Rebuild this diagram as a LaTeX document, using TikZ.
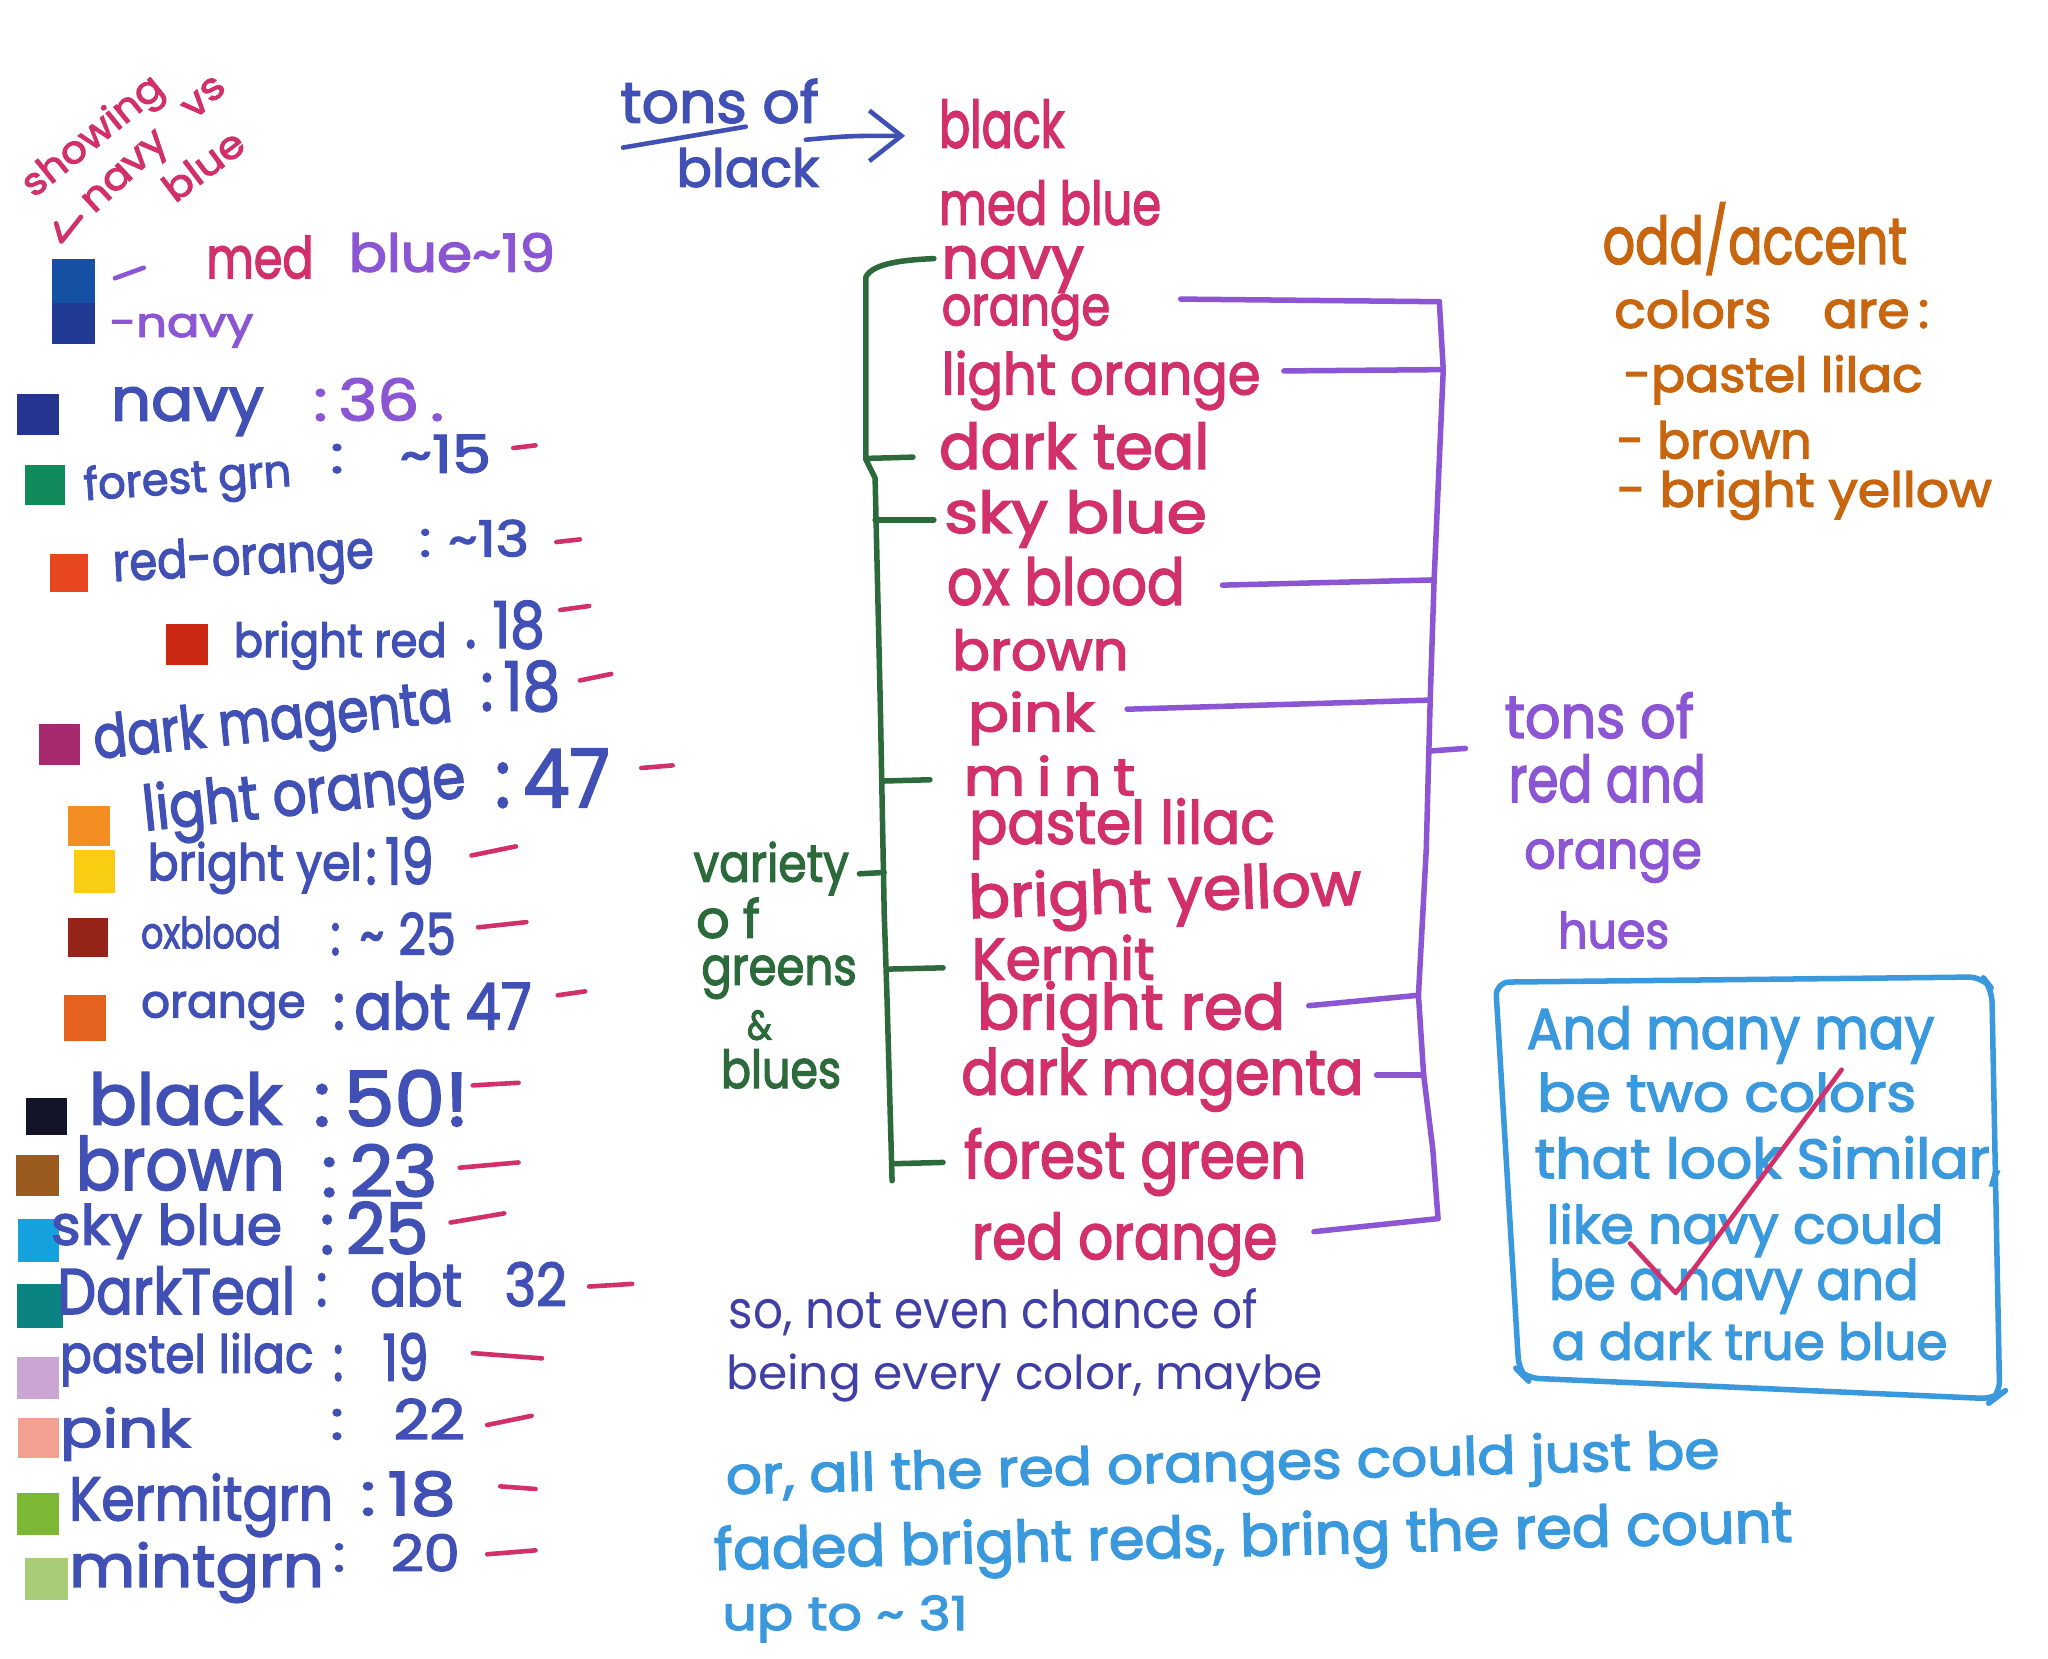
\documentclass[tikz,border=0pt]{standalone}
\usepackage{fontspec}
\setmainfont{Poppins}[FakeBold=2.5]
\newfontfamily\thinhand{Poppins}
\usepackage{graphicx}
\usetikzlibrary{arrows.meta}
\newlength\hwu
\setlength\hwu{0.01cm}
\newcommand\hw[2]{\resizebox{#1\hwu}{\height}{#2}}
\definecolor{cPK}{HTML}{D1306A}
\definecolor{cPU}{HTML}{8B55D3}
\definecolor{cHB}{HTML}{4150B4}
\definecolor{cGR}{HTML}{2C6A3B}
\definecolor{cBR}{HTML}{C8650F}
\definecolor{cLB}{HTML}{3A98DC}
\definecolor{cIB}{HTML}{3F3FA5}
\definecolor{sqMedBlue}{HTML}{1451A5}
\definecolor{sqNavyB}{HTML}{213B95}
\definecolor{sqNavy}{HTML}{24348F}
\definecolor{sqForest}{HTML}{118A5C}
\definecolor{sqRedOr}{HTML}{E8461E}
\definecolor{sqBRed}{HTML}{CB2914}
\definecolor{sqMag}{HTML}{A82A6E}
\definecolor{sqLOr}{HTML}{F28E22}
\definecolor{sqYel}{HTML}{F9CD11}
\definecolor{sqOx}{HTML}{962318}
\definecolor{sqOr}{HTML}{E4621E}
\definecolor{sqBlack}{HTML}{141428}
\definecolor{sqBrown}{HTML}{9B5A1E}
\definecolor{sqSky}{HTML}{16A2DE}
\definecolor{sqTeal}{HTML}{0C8383}
\definecolor{sqLilac}{HTML}{CBA6D2}
\definecolor{sqPink}{HTML}{F2A091}
\definecolor{sqKermit}{HTML}{7CB833}
\definecolor{sqMint}{HTML}{A9CC79}
\tikzset{
  tx/.style={inner sep=0pt, outer sep=0pt, anchor=base west},
  fsz/.style={font=\fontsize{#1}{#1}\selectfont},
  ln/.style={line width=1pt, line cap=round, line join=round},
  brk/.style={line width=1.2pt, line cap=round, line join=round},
}
\begin{document}
\begin{tikzpicture}[x=0.01cm,y=-0.01cm]
\fill[white] (0,0) rectangle (1568,1270);
\useasboundingbox (0,0) rectangle (1568,1270);

% ---------- "showing navy vs blue" ----------
\node[tx,fsz=8.3,text=cPK,rotate=39] (r1) at (26,152) {\hw{130}{showing}};
\node[tx,fsz=8.3,text=cPK,rotate=43] (r2) at (72,164) {\hw{140}{navy\hspace{0.8em}vs}};
\node[tx,fsz=8.3,text=cPK,rotate=37] (r3) at (134,156) {\hw{70}{blue}};
\coordinate (ra) at (62,166);
\coordinate (rb) at (47,185);
\coordinate (rc) at (43,171);
\draw[ln,cPK] (ra) -- (rb) -- (rc);

% ---------- left colour swatches ----------
\fill[sqMedBlue] (40,198) rectangle (73,232);
\fill[sqNavyB] (40,232) rectangle (73,263);
\fill[sqNavy] (13,302) rectangle (45,333);
\fill[sqForest] (19,356) rectangle (50,387);
\fill[sqRedOr] (38,424) rectangle (67,453);
\fill[sqBRed] (127,478) rectangle (159,509);
\fill[sqMag] (30,554) rectangle (61,586);
\fill[sqLOr] (52,617) rectangle (84,648);
\fill[sqYel] (57,651) rectangle (88,684);
\fill[sqOx] (52,703) rectangle (83,733);
\fill[sqOr] (49,762) rectangle (81,797);
\fill[sqBlack] (20,841) rectangle (51,869);
\fill[sqBrown] (12,884) rectangle (45,916);
\fill[sqSky] (14,933) rectangle (45,966);
\fill[sqTeal] (13,983) rectangle (48,1017);
\fill[sqLilac] (13,1039) rectangle (45,1071);
\fill[sqPink] (14,1086) rectangle (45,1116);
\fill[sqKermit] (13,1143) rectangle (45,1175);
\fill[sqMint] (19,1193) rectangle (52,1225);

% ---------- left labels ----------
\draw[ln,cPU] (88,213) -- (110,205);
\node[tx,fsz=12.5,text=cPK] (medL) at (158,213) {\hw{82}{med}};
\node[tx,fsz=11.4,text=cPU] (mbL) at (267,208) {\hw{158}{blue\textasciitilde19}};
\node[tx,fsz=9,text=cPU] (nvL) at (84,258) {\hw{110}{-navy}};

\node[tx,fsz=13,text=cHB] (n1) at (85,322) {\hw{117}{navy}};
\node[tx,fsz=12.5,text=cPU] (c1) at (240,322) {\hw{100}{:\,36\,.}};
\node[tx,fsz=9.7,text=cHB,rotate=4] (n2) at (65,383) {\hw{159}{forest grn}};
\node[tx,fsz=11.4,text=cHB] (c2) at (253,362) {\hw{123}{:\hspace{0.9em}\textasciitilde15}};
\node[tx,fsz=11.4,text=cHB,rotate=3] (n3) at (87,445) {\hw{200}{red-orange}};
\node[tx,fsz=10.8,text=cHB] (c3) at (321,426) {\hw{84}{:\hspace{0.3em}\textasciitilde13}};
\node[tx,fsz=10.2,text=cHB] (n4) at (179,503) {\hw{163}{bright red}};
\node[tx,fsz=14,text=cHB] (c4) at (356,496) {\hw{61}{.\hspace{0.3em}18}};
\node[tx,fsz=13,text=cHB,rotate=6] (n5) at (73,581) {\hw{276}{dark magenta}};
\node[tx,fsz=14.8,text=cHB] (c5) at (368,544) {\hw{61}{:\,18}};
\node[tx,fsz=13.5,text=cHB,rotate=6] (n6) at (111,636) {\hw{248}{light orange}};
\node[tx,fsz=17.6,text=cHB] (c6) at (379,618) {\hw{88}{:\,47}};
\node[tx,fsz=11,text=cHB] (n7) at (113,674) {\hw{164}{bright yel}};
\node[tx,fsz=14,text=cHB] (c7) at (280,677) {\hw{52}{:\,19}};
\node[tx,fsz=9.4,text=cHB] (n8) at (108,726) {\hw{107}{oxblood}};
\node[tx,fsz=12.5,text=cHB] (c8) at (253,731) {\hw{96}{:\hspace{0.4em}\textasciitilde\hspace{0.3em}25}};
\node[tx,fsz=10,text=cHB] (n9) at (108,779) {\hw{126}{orange}};
\node[tx,fsz=14,text=cHB] (c9) at (255,788) {\hw{152}{:\,abt 47}};
\node[tx,fsz=15.4,text=cHB] (n10) at (68,861) {\hw{148}{black}};
\node[tx,fsz=16.5,text=cHB] (c10) at (240,862) {\hw{119}{:\,50!}};
\node[tx,fsz=15.9,text=cHB] (n11) at (58,911) {\hw{160}{brown}};
\node[tx,fsz=15.4,text=cHB] (c11) at (246,916) {\hw{89}{:\,23}};
\node[tx,fsz=12,text=cHB] (n12) at (39,953) {\hw{177}{sky blue}};
\node[tx,fsz=15.4,text=cHB] (c12) at (245,960) {\hw{83}{:\,25}};
\node[tx,fsz=14,text=cHB] (n13) at (44,1006) {\hw{182}{DarkTeal}};
\node[tx,fsz=13,text=cHB] (c13) at (242,1000) {\hw{192}{:\hspace{0.8em}abt\hspace{0.8em}32}};
\node[tx,fsz=11.4,text=cHB] (n14) at (46,1051) {\hw{194}{pastel lilac}};
\node[tx,fsz=14,text=cHB] (c14) at (255,1057) {\hw{73}{:\hspace{0.8em}19}};
\node[tx,fsz=11.4,text=cHB] (n15) at (46,1108) {\hw{100}{pink}};
\node[tx,fsz=12,text=cHB] (c15) at (253,1102) {\hw{103}{:\hspace{0.8em}22}};
\node[tx,fsz=13.4,text=cHB] (n16) at (53,1164) {\hw{202}{Kermitgrn}};
\node[tx,fsz=13,text=cHB] (c16) at (276,1160) {\hw{73}{:\,18}};
\node[tx,fsz=12.8,text=cHB] (n17) at (53,1215) {\hw{195}{mintgrn}};
\node[tx,fsz=11,text=cHB] (c17) at (255,1203) {\hw{97}{:\hspace{0.8em}20}};

% pink dashes
\draw[ln,cPK] (393,343) -- (410,341);
\draw[ln,cPK] (426,415) -- (444,413);
\draw[ln,cPK] (429,467) -- (451,464);
\draw[ln,cPK] (444,521) -- (468,516);
\draw[ln,cPK] (491,588) -- (515,586);
\draw[ln,cPK] (361,655) -- (395,648);
\draw[ln,cPK] (366,710) -- (403,706);
\draw[ln,cPK] (427,762) -- (448,759);
\draw[ln,cPK] (362,831) -- (397,829);
\draw[ln,cPK] (352,894) -- (397,890);
\draw[ln,cPK] (345,936) -- (386,929);
\draw[ln,cPK] (451,985) -- (484,983);
\draw[ln,cPK] (362,1036) -- (415,1040);
\draw[ln,cPK] (373,1091) -- (407,1084);
\draw[ln,cPK] (383,1138) -- (410,1140);
\draw[ln,cPK] (373,1190) -- (410,1187);

% ---------- tons of black ----------
\node[tx,fsz=12.5,text=cHB] (t1) at (475,94) {\hw{152}{tons of}};
\node[tx,fsz=11.4,text=cHB] (t2) at (518,143) {\hw{109}{black}};
\draw[ln,cHB] (477,113) -- (571,97);
\coordinate (ta) at (617,107);
\coordinate (tb) at (693,104);
\draw[ln,cHB,-{Straight Barb[length=7pt,width=11pt]}] (ta) .. controls (650,104) .. (tb);

% ---------- middle list ----------
\node[tx,fsz=14.2,text=cPK] (m1) at (719,113) {\hw{96}{black}};
\node[tx,fsz=13,text=cPK] (m2) at (719,172) {\hw{170}{med blue}};
\node[tx,fsz=12.5,text=cPK] (m3) at (721,213) {\hw{109}{navy}};
\node[tx,fsz=12,text=cPK] (m4) at (721,249) {\hw{129}{orange}};
\node[tx,fsz=12.5,text=cPK] (m5) at (721,302) {\hw{244}{light orange}};
\node[tx,fsz=13.7,text=cPK] (m6) at (719,359) {\hw{207}{dark teal}};
\node[tx,fsz=12.5,text=cPK] (m7) at (723,408) {\hw{201}{sky blue}};
\node[tx,fsz=14,text=cPK] (m8) at (725,463) {\hw{182}{ox blood}};
\node[tx,fsz=12,text=cPK] (m9) at (729,513) {\hw{135}{brown}};
\node[tx,fsz=11.4,text=cPK] (m10) at (741,560) {\hw{97}{pink}};
\node[tx,fsz=11.4,text=cPK] (m11) at (738,609) {\hw{131}{m\hspace{0.2em}i\hspace{0.2em}n\hspace{0.2em}t}};
\node[tx,fsz=13,text=cPK] (m12) at (742,646) {\hw{234}{pastel lilac}};
\node[tx,fsz=13,text=cPK,rotate=2] (m13) at (742,703) {\hw{301}{bright yellow}};
\node[tx,fsz=12.8,text=cPK] (m14) at (744,750) {\hw{140}{Kermit}};
\node[tx,fsz=13.7,text=cPK] (m15) at (748,788) {\hw{236}{bright red}};
\node[tx,fsz=13.7,text=cPK] (m16) at (736,838) {\hw{308}{dark magenta}};
\node[tx,fsz=14.2,text=cPK] (m17) at (738,902) {\hw{262}{forest green}};
\node[tx,fsz=13.7,text=cPK] (m18) at (744,964) {\hw{234}{red orange}};

% ---------- green bracket ----------
\draw[brk,cGR] (715,198) .. controls (690,199) and (668,202) .. (663,212)
  -- (663,352) -- (670,366) -- (674,540) -- (677,700) -- (679,760) -- (683,904);
\draw[brk,cGR] (663,351) -- (699,350);
\draw[brk,cGR] (670,398) -- (715,398);
\draw[brk,cGR] (676,598) -- (712,597);
\draw[brk,cGR] (658,669) -- (677,668);
\draw[brk,cGR] (679,742) -- (722,741);
\draw[brk,cGR] (683,891) -- (722,890);

\node[tx,fsz=11.4,text=cGR] (g1) at (531,675) {\hw{119}{variety}};
\node[tx,fsz=11.4,text=cGR] (g2) at (533,718) {\hw{49}{o\hspace{0.25em}f}};
\node[tx,fsz=11.4,text=cGR] (g3) at (537,754) {\hw{119}{greens}};
\node[tx,fsz=9,text=cGR] (g4) at (572,796) {\hw{19}{\&}};
\node[tx,fsz=11.4,text=cGR] (g5) at (552,833) {\hw{92}{blues}};

% ---------- purple bracket ----------
\draw[brk,cPU] (904,229) -- (1102,231);
\draw[brk,cPU] (983,284) -- (1105,283);
\draw[brk,cPU] (936,448) -- (1098,444);
\draw[brk,cPU] (863,543) -- (1095,536);
\draw[brk,cPU] (1002,770) -- (1086,762);
\draw[brk,cPU] (1054,823) -- (1090,823);
\draw[brk,cPU] (1006,943) -- (1101,933);
\draw[brk,cPU] (1102,231) -- (1105,283) -- (1098,444) -- (1095,536)
  -- (1092,650) -- (1086,762) -- (1090,823) -- (1097,880) -- (1101,933);
\draw[brk,cPU] (1095,575) -- (1122,573);

\node[tx,fsz=13,text=cPU] (p1) at (1152,565) {\hw{145}{tons of}};
\node[tx,fsz=14,text=cPU] (p2) at (1155,614) {\hw{151}{red and}};
\node[tx,fsz=11.4,text=cPU] (p3) at (1167,665) {\hw{136}{orange}};
\node[tx,fsz=10.8,text=cPU] (p4) at (1193,726) {\hw{85}{hues}};

% ---------- odd / accent ----------
\node[tx,fsz=14.2,text=cBR] (o1) at (1227,202) {\hw{233}{odd/accent}};
\node[tx,fsz=11,text=cBR] (o2) at (1236,251) {\hw{241}{colors\hspace{1em}are\,:}};
\node[tx,fsz=10.5,text=cBR] (o3) at (1243,300) {\hw{229}{-pastel lilac}};
\node[tx,fsz=11,text=cBR] (o4) at (1238,351) {\hw{149}{- brown}};
\node[tx,fsz=10.5,text=cBR] (o5) at (1238,388) {\hw{287}{- bright yellow}};

% ---------- boxed note ----------
\draw[brk,cLB,rounded corners=3pt] (1145,752) -- (1518,748) -- (1525,757)
  -- (1531,1068) -- (1527,1071) -- (1168,1055) -- (1163,1050) -- cycle;
\node[tx,fsz=12.5,text=cLB] (b1) at (1169,803) {\hw{312}{And many may}};
\node[tx,fsz=11.4,text=cLB] (b2) at (1177,851) {\hw{290}{be two colors}};
\node[tx,fsz=12,text=cLB] (b3) at (1175,902) {\hw{357}{that look Similar,}};
\node[tx,fsz=11.4,text=cLB] (b4) at (1184,952) {\hw{304}{like navy could}};
\node[tx,fsz=12,text=cLB] (b5) at (1186,995) {\hw{283}{be a navy and}};
\node[tx,fsz=11,text=cLB] (b6) at (1188,1041) {\hw{303}{a dark true blue}};
\draw[ln,cPK] (1248,952) -- (1283,990) -- (1410,819);

% ---------- bottom notes ----------
\node[tx,text=cIB,font=\thinhand\fontsize{11.4}{11.4}\selectfont] (s1) at (558,1017) {\hw{405}{so, not even chance of}};
\node[tx,text=cIB,font=\thinhand\fontsize{10.2}{10.2}\selectfont] (s2) at (556,1064) {\hw{457}{being every color, maybe}};
\node[tx,fsz=11.4,text=cLB,rotate=1.5] (s3) at (556,1144) {\hw{761}{or, all the red oranges could just be}};
\node[tx,fsz=12.5,text=cLB,rotate=1.5] (s4) at (547,1202) {\hw{826}{faded bright reds, bring the red count}};
\node[tx,fsz=10.2,text=cLB] (s5) at (553,1248) {\hw{188}{up to \textasciitilde\ 31}};
\end{tikzpicture}
\end{document}
